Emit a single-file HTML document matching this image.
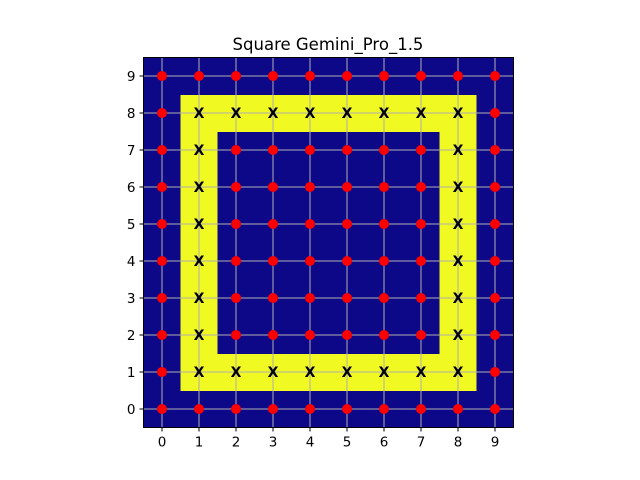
<!DOCTYPE html>
<html><head><meta charset="utf-8"><style>
body{margin:0;background:#fff;}
svg{display:block;font-family:"DejaVu Sans","Liberation Sans",sans-serif;}
</style></head><body>
<svg id="chart" width="640" height="480">
<text x="328" y="50" text-anchor="middle" font-size="16.5">Square Gemini_Pro_1.5</text>
<g id="cells"></g><g id="grid"></g><g id="marks"></g><g id="axes"></g>
<rect x="143.5" y="57.5" width="370" height="370" fill="none" stroke="#000" stroke-width="1"/>
</svg>
<script>
const gridSize = 10;
const ringMin = [1, 1];
const ringMax = [8, 8];
const xTicks = [0,1,2,3,4,5,6,7,8,9];
const yTicks = [0,1,2,3,4,5,6,7,8,9];
const NS='http://www.w3.org/2000/svg';
const X0=143.5,X1=513.5,Y0=427.5,Y1=57.5;
const sx=v=>X0+(v+0.5)*(X1-X0)/gridSize;
const sy=v=>Y0-(v+0.5)*(Y0-Y1)/gridSize;
const cw=(X1-X0)/gridSize;
function mk(t,a,p){const e=document.createElementNS(NS,t);for(const k in a)e.setAttribute(k,a[k]);p.appendChild(e);return e;}
const inRing=(x,y)=>x>=ringMin[0]&&x<=ringMax[0]&&y>=ringMin[1]&&y<=ringMax[1]&&(x===ringMin[0]||x===ringMax[0]||y===ringMin[1]||y===ringMax[1]);
const cells=document.getElementById('cells'),grid=document.getElementById('grid'),marks=document.getElementById('marks'),axes=document.getElementById('axes');
for(let x=0;x<gridSize;x++)for(let y=0;y<gridSize;y++){
  const r=mk('rect',{x:sx(x)-cw/2,y:sy(y)-cw/2,width:cw+0.5,height:cw+0.5,fill:inRing(x,y)?'#f0f921':'#0d0887'},cells);
  
  
}
xTicks.forEach(t=>{
  const l=mk('line',{x1:sx(t),x2:sx(t),y1:Y1,y2:Y0,stroke:'#b0b0b0','stroke-width':1},grid);
  
  const k=mk('line',{x1:sx(t),x2:sx(t),y1:Y0,y2:Y0+4,stroke:'#000'},axes);
  
  const tx=mk('text',{x:sx(t),y:Y0+19,'text-anchor':'middle','font-size':13.5},axes);tx.textContent=t;
  
});
yTicks.forEach(t=>{
  const l=mk('line',{x1:X0,x2:X1,y1:sy(t),y2:sy(t),stroke:'#b0b0b0','stroke-width':1},grid);
  
  const k=mk('line',{x1:X0-4,x2:X0,y1:sy(t),y2:sy(t),stroke:'#000'},axes);
  
  const tx=mk('text',{x:X0-8,y:sy(t)+5,'text-anchor':'end','font-size':13.5},axes);tx.textContent=t;
  
});
for(let x=0;x<gridSize;x++)for(let y=0;y<gridSize;y++){
  if(inRing(x,y)){
    const t=mk('text',{x:sx(x),y:sy(y)+5,'text-anchor':'middle','font-size':14,'font-weight':'bold',fill:'#000'},marks);t.textContent='X';
    
  }else{
    const c=mk('circle',{cx:sx(x),cy:sy(y),r:5,fill:'#ff0000'},marks);
    
  }
}
</script>
</body></html>
